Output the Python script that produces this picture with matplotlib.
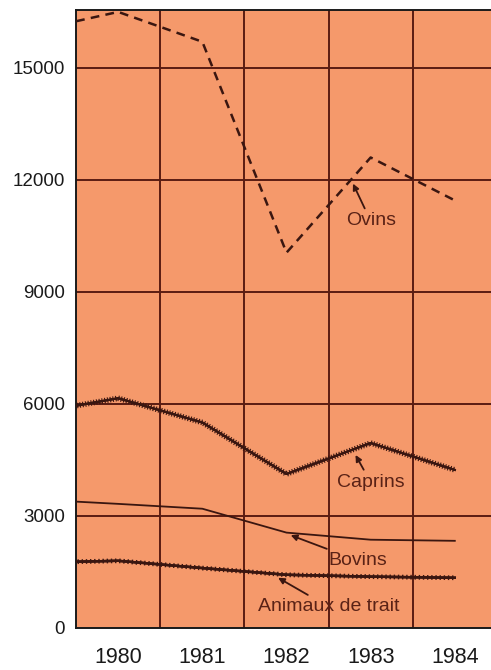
import matplotlib
matplotlib.use('Agg')
import matplotlib.pyplot as plt
import matplotlib.patheffects as pe

plt.rcParams['font.family'] = ['Liberation Sans', 'DejaVu Sans']

# données -- le premier point est au bord gauche
x = [1979.5, 1980, 1981, 1982, 1983, 1984]
ovins = [16250, 16500, 15700, 10050, 12600, 11450]
caprins = [5950, 6150, 5500, 4120, 4950, 4230]
bovins = [3380, 3320, 3190, 2550, 2360, 2330]
animaux = [1770, 1795, 1600, 1420, 1370, 1340]

years = [1980, 1981, 1982, 1983, 1984]
yticks = [0, 3000, 6000, 9000, 12000, 15000]
grid_x = [1980.5, 1981.5, 1982.5, 1983.5]

BG = '#f5996b'
GRID = '#5a1c12'
INK = '#3a1610'
TXT = '#5a2216'

fig = plt.figure(figsize=(4.91, 6.70), dpi=100)
ax = fig.add_axes([0.155, 0.063, 0.845, 0.922])
ax.set_facecolor(BG)
ax.set_xlim(1979.5, 1984.43)
ax.set_ylim(0, 16550)

for gx in grid_x:
    ax.axvline(gx, color=GRID, lw=1.4, zorder=1)
for gy in yticks[1:]:
    ax.axhline(gy, color=GRID, lw=1.4, zorder=1)

ax.plot(x, ovins, color=INK, lw=1.8, dashes=(3.5, 2.5), zorder=3)

hairy = [pe.withTickedStroke(spacing=2.0, angle=90, length=0.8, linewidth=0.8),
         pe.withTickedStroke(spacing=2.0, angle=-90, length=0.8, linewidth=0.8),
         pe.Normal()]
ax.plot(x, caprins, color=INK, lw=1.5, path_effects=hairy, zorder=3)
ax.plot(x, bovins, color=INK, lw=1.3, zorder=3)
beads = [pe.withTickedStroke(spacing=3.0, angle=90, length=0.4, linewidth=1.0),
         pe.withTickedStroke(spacing=3.0, angle=-90, length=0.4, linewidth=1.0),
         pe.Normal()]
ax.plot(x, animaux, color=INK, lw=1.7, path_effects=beads, zorder=3)

arrow = dict(arrowstyle='-|>', color=INK, lw=1.3, mutation_scale=9, shrinkA=1, shrinkB=0)
ax.annotate('Ovins', xy=(1982.79, 11900), xytext=(1983.0, 10900),
            ha='center', va='center', fontsize=14, color=TXT, arrowprops=arrow)
ax.annotate('Caprins', xy=(1982.82, 4630), xytext=(1983.0, 3900),
            ha='center', va='center', fontsize=14, color=TXT, arrowprops=arrow)
ax.annotate('Bovins', xy=(1982.05, 2480), xytext=(1982.85, 1800),
            ha='center', va='center', fontsize=14, color=TXT, arrowprops=arrow)
ax.annotate('Animaux de trait', xy=(1981.9, 1340), xytext=(1982.5, 560),
            ha='center', va='center', fontsize=14, color=TXT, arrowprops=arrow)

ax.set_xticks(years)
ax.set_xticklabels([str(y) for y in years], fontsize=15.5, color='#1a1a1a')
ax.set_yticks(yticks)
ax.set_yticklabels([str(v) for v in yticks], fontsize=13.5, color='#1a1a1a')
ax.tick_params(length=0, pad=8)
ax.tick_params(axis='x', pad=14)

for s in ['top', 'left', 'bottom']:
    ax.spines[s].set_color('#1a1a1a')
    ax.spines[s].set_linewidth(1.4)
ax.spines['right'].set_visible(False)

fig.savefig('out.png', dpi=100, facecolor='white')
